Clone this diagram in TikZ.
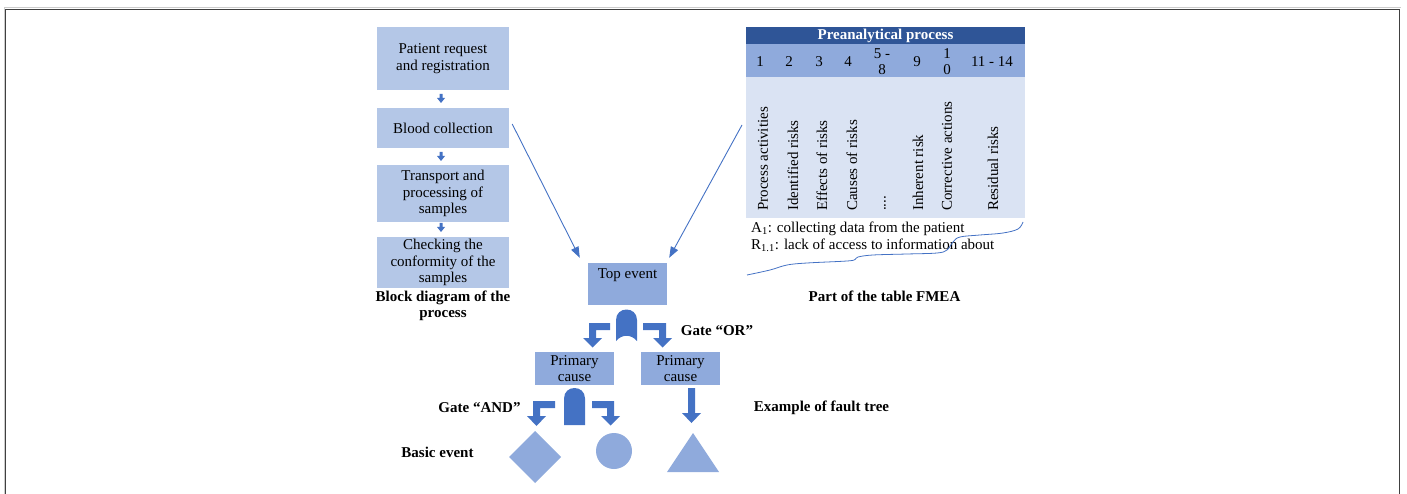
\documentclass[tikz,border=0pt]{standalone}
\usepackage{fontspec}
\setmainfont{Liberation Serif}
\usetikzlibrary{arrows.meta}
\definecolor{lightbox}{HTML}{B4C7E7}
\definecolor{midbox}{HTML}{8FAADC}
\definecolor{darkhead}{HTML}{2F5597}
\definecolor{tablelight}{HTML}{DAE3F3}
\definecolor{accent}{HTML}{4472C4}
\definecolor{framegray}{HTML}{404040}
\begin{document}
\begin{tikzpicture}[x=1pt,y=-1pt,
  txt/.style={font=\fontsize{15}{16.5}\selectfont, align=center, inner sep=0pt},
  lbl/.style={font=\fontsize{15}{16.5}\selectfont\bfseries, align=center, inner sep=0pt},
  procbox/.style={fill=lightbox, draw=none, minimum width=132pt, inner sep=0pt, txt},
  treebox/.style={fill=midbox, draw=none, inner sep=0pt, txt},
  blockarrow/.style={fill=accent, draw=none},
  thinarrow/.style={draw=accent, line width=0.9pt, -{Triangle[length=11pt,width=8pt]}},
  rot/.style={txt, rotate=90, anchor=west},
  num/.style={txt}]
\useasboundingbox (0,0) rectangle (1407,494);
% frame
\draw[gray!40, line width=1pt] (4,494) -- (4,7.5) -- (1401,7.5);
\draw[framegray, line width=1.3pt] (5.5,494) -- (5.5,9.5) -- (1399.5,9.5) -- (1399.5,494);

% process boxes
\node[procbox, minimum height=63pt] (b1) at (443,58.5) {Patient request\\and registration};
\node[procbox, minimum height=40pt] (b2) at (443,128) {Blood collection};
\node[procbox, minimum height=57pt] (b3) at (443,193.5) {Transport and\\processing of\\samples};
\node[procbox, minimum height=51pt] (b4) at (443,262.5) {Checking the\\conformity of the\\samples};
\node[lbl] (blocklbl) at (443,306) {Block diagram of the\\process};
% small arrows between process boxes
\foreach \ya in {94,152,223}{
  \fill[accent] (439.5,\ya) -- (442.5,\ya) -- (442.5,\ya+4) -- (445,\ya+4) -- (441,\ya+9) -- (437,\ya+4) -- (439.5,\ya+4) -- cycle;
}

% FMEA table
\fill[darkhead] (746,27) rectangle (1025,44);
\node[lbl, text=white] (head) at (885.5,36) {Preanalytical process};
\fill[midbox] (746,44) rectangle (1025,77.5);
\fill[tablelight] (746,77.5) rectangle (1025,218.5);
\node[num] (n1) at (760,61.5) {1};
\node[num] (n2) at (789,61.5) {2};
\node[num] (n3) at (819,61.5) {3};
\node[num] (n4) at (848,61.5) {4};
\node[num] (n5) at (882,61.5) {5 -\\8};
\node[num] (n9) at (917,61.5) {9};
\node[num] (n10) at (947,61.5) {1\\0};
\node[num] (n11) at (992,61.5) {11 - 14};
\node[rot] (c1) at (763,211) {Process activities};
\node[rot] (c2) at (793,211) {Identified risks};
\node[rot] (c3) at (822,211) {Effects of risks};
\node[rot] (c4) at (852,211) {Causes of risks};
\node[rot] (c5) at (885,211) {....};
\node[rot] (c6) at (918,211) {Inherent risk};
\node[rot] (c7) at (947,211) {Corrective actions};
\node[rot] (c8) at (993,211) {Residual risks};
\node[txt, anchor=west] (a1) at (751,229) {A\textsubscript{1}: collecting data from the patient};
\node[txt, anchor=west] (r1) at (751,245.5) {R\textsubscript{1.1}: lack of access to information about};
\draw[accent, line width=0.8pt] plot[smooth, tension=0.6] coordinates {(1023,222) (1018,229) (1003,233) (980,235) (960,237) (953,242) (947,250) (937,253) (907,254) (873,255) (858,257) (855,259.5) (847,261) (807,263) (787,265) (770,270) (747,275)};
\node[lbl] (fmealbl) at (884.5,296) {Part of the table FMEA};

% fault tree
\node[treebox, minimum width=79pt, minimum height=42pt] (top) at (627.5,284) {};
\node[txt] (toptxt) at (627.5,275) {Top event};
\draw[thinarrow] ([xshift=3pt,yshift=4pt]b2.east) -- ([xshift=-8pt,yshift=5pt]top.north west);
\draw[thinarrow] (742,125) -- ([xshift=2pt,yshift=5pt]top.north east);

% OR gate
\fill[accent] (616,341) -- (616,320) .. controls (616,306) and (637,306) .. (637,320) -- (637,341) .. controls (631,334) and (622,334) .. (616,341) -- cycle;
\node[lbl] (orlbl) at (717,331) {Gate “OR”};
% OR bent arrows
\fill[accent] (610,323) -- (589,323) -- (589,338) -- (583,338) -- (592.5,347.5) -- (602,338) -- (596,338) -- (596,330) -- (610,330) -- cycle;
\fill[accent] (643,323) -- (666,323) -- (666,338) -- (672,338) -- (662.5,347.5) -- (653,338) -- (659,338) -- (659,330) -- (643,330) -- cycle;

\node[treebox, minimum width=79pt, minimum height=33pt] (pc1) at (574.5,368.5) {Primary\\cause};
\node[treebox, minimum width=79pt, minimum height=33pt] (pc2) at (680.5,368.5) {Primary\\cause};

% AND gate
\fill[accent] (564,425) -- (564,398.5) .. controls (564,384.5) and (585,384.5) .. (585,398.5) -- (585,425) -- cycle;
\node[lbl] (andlbl) at (479.5,408) {Gate “AND”};
\fill[accent] (555,401) -- (533,401) -- (533,416) -- (527,416) -- (536.5,426) -- (546,416) -- (540,416) -- (540,408) -- (555,408) -- cycle;
\fill[accent] (592,401) -- (614,401) -- (614,416) -- (620,416) -- (610.5,425.5) -- (601,416) -- (607,416) -- (607,408) -- (592,408) -- cycle;
% straight arrow
\fill[accent] (688,388) -- (695,388) -- (695,413) -- (701,413) -- (691.5,423) -- (682,413) -- (688,413) -- cycle;
\node[lbl] (exlbl) at (821.5,408) {Example of fault tree};

% basic events
\node[lbl] (basiclbl) at (437.5,452) {Basic event};
\fill[midbox] (535,431) -- (561,457) -- (535,483) -- (509,457) -- cycle;
\fill[midbox] (614,451) circle[radius=18];
\fill[midbox] (693,433) -- (719,472) -- (667,472) -- cycle;
\end{tikzpicture}
\end{document}
